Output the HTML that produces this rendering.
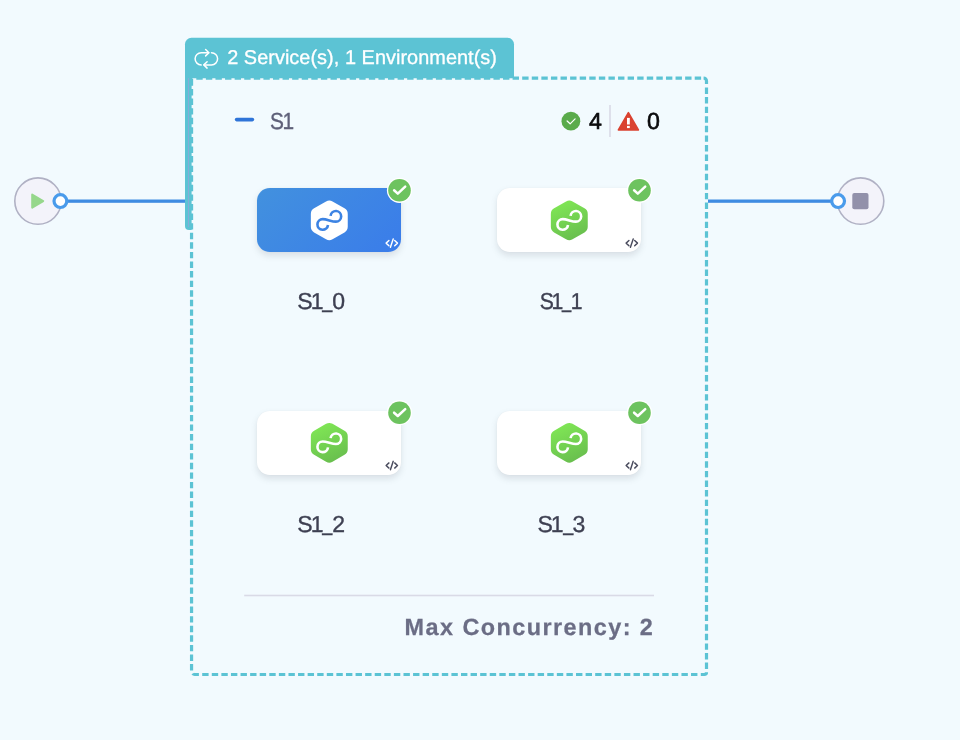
<!DOCTYPE html>
<html lang="en">
<head>
<meta charset="utf-8">
<title>Pipeline</title>
<style>
*{box-sizing:border-box;margin:0;padding:0}
html,body{width:960px;height:740px;overflow:hidden}
body{background:#f2fafe;font-family:"Liberation Sans",sans-serif;position:relative}
#root{position:absolute;left:0;top:0;width:960px;height:740px;will-change:transform}
#root>div,#root>svg{position:absolute}
.card{width:144px;height:64px;border-radius:12.8px;background:#fff;box-shadow:0 3.2px 6.4px rgba(96,97,112,.16),0 0 1.6px rgba(40,41,61,.06)}
.card.sel{background:linear-gradient(135deg,#4291de 0%,#3a7cea 100%)}
.t{white-space:nowrap;line-height:26px;text-rendering:geometricPrecision}
.tabtext{left:227.2px;top:44.5px;font-size:19.9px;color:#fff;letter-spacing:0.04px;-webkit-text-stroke:0.3px #fff}
.title{left:269.8px;top:107.6px;font-size:23.2px;color:#5e6079;letter-spacing:-1.6px;-webkit-text-stroke:0.35px #5e6079;transform:scaleX(.9);transform-origin:0 0}
.cnt{top:108.2px;font-size:23.2px;color:#0b0b0d;-webkit-text-stroke:0.6px #0b0b0d}
.label{width:80px;text-align:center;font-size:23px;color:#3e4052;letter-spacing:-2px;-webkit-text-stroke:0.35px #3e4052;transform-origin:50% 0}
.label span{display:inline-block;transform-origin:50% 100%;transform:translateY(-1.3px) scale(.78,1.1)}
.maxc{left:404.6px;top:613.6px;font-size:23.4px;font-weight:bold;color:#6b6d85;letter-spacing:1.45px;-webkit-text-stroke:0.25px #6b6d85}
</style>
</head>
<body>
<div id="root">
<div class="card sel" style="left:257px;top:188.3px"></div>
<div class="card" style="left:497px;top:188.3px"></div>
<div class="card" style="left:257px;top:410.7px"></div>
<div class="card" style="left:497px;top:410.7px"></div>
<svg width="960" height="740" viewBox="0 0 960 740" style="left:0;top:0">
<defs>
<linearGradient id="gg" x1="0.3" y1="0" x2="0.7" y2="1"><stop offset="0" stop-color="#80e755"/><stop offset="1" stop-color="#68bd4e"/></linearGradient>
<path id="hex" d="M-3.24 -18.94 A6.5 6.5 0 0 1 3.24 -18.94 L15.19 -12.07 A6.5 6.5 0 0 1 18.45 -6.44 L18.45 6.44 A6.5 6.5 0 0 1 15.19 12.07 L3.24 18.94 A6.5 6.5 0 0 1 -3.24 18.94 L-15.19 12.07 A6.5 6.5 0 0 1 -18.45 6.44 L-18.45 -6.44 A6.5 6.5 0 0 1 -15.19 -12.07 Z"/>
<path id="inf" d="M1.3 -4.6 A5.3 5.3 0 1 1 6.6 1.25 C2.3 1.25 -2.3 -1.25 -6.6 -1.25 A5.3 5.3 0 1 0 -1.3 4.6" fill="none" stroke-width="2.6"/>
<g id="badge"><circle r="12.6" fill="#fff"/><circle r="11.3" fill="#6dc35f"/><path d="M-5.4 0 L-1.7 3.3 L5.7 -3.6" fill="none" stroke="#fff" stroke-width="2.5" stroke-linecap="round" stroke-linejoin="round"/></g>
<path id="code" d="M3.9 -2.8 L0.9 0 L3.9 2.8 M8.5 -4.5 L5.5 4.5 M10.1 -2.8 L13.1 0 L10.1 2.8" fill="none" stroke-width="1.55" stroke-linecap="round" stroke-linejoin="round"/>
<g id="port"><circle r="6.4" fill="#fff" stroke="#4a9beb" stroke-width="3.2"/></g>
</defs>
<!-- links -->
<rect x="60" y="199.5" width="126" height="3.3" fill="#3f8ce2"/>
<rect x="708" y="199.5" width="126" height="3.3" fill="#3f8ce2"/>
<!-- start node -->
<circle cx="38" cy="201.1" r="23.2" fill="#f3f3fa" stroke="#b0b1c4" stroke-width="1.6"/>
<path d="M32.2 194.6 L43.2 201.1 L32.2 207.6 Z" fill="#96d78b" stroke="#96d78b" stroke-width="2" stroke-linejoin="round"/>
<use href="#port" x="60.4" y="201.1"/>
<!-- end node -->
<circle cx="860.6" cy="201.1" r="23.2" fill="#f3f3fa" stroke="#b0b1c4" stroke-width="1.6"/>
<rect x="852.3" y="193" width="16.2" height="16.2" rx="2" fill="#9291aa"/>
<use href="#port" x="838.1" y="201.1"/>
<!-- dashed group border -->
<g fill="none" stroke="#5cc3d4" stroke-width="3.2" stroke-dasharray="6.39 3.195">
<path d="M196.3 78.1 H702"/>
<path d="M706.5 87.5 V669.5"/>
<path d="M202.2 674.5 H699"/>
<path d="M191.55 79.4 V671"/>
</g>
<g fill="none" stroke="#5cc3d4" stroke-width="3.2">
<path d="M703.6 78.1 A2.9 2.9 0 0 1 706.5 81 V84"/>
<path d="M706.5 672.3 A2.2 2.2 0 0 1 704.3 674.5 H700.8"/>
<path d="M198.9 674.5 H194.6 A2.2 2.2 0 0 1 192.8 673.5"/>
<path d="M191.55 80 V79.6 A1.8 1.8 0 0 1 192.3 78.2"/>
</g>
<!-- tab and bar -->
<path d="M185 78.2 V44.2 A6.4 6.4 0 0 1 191.400 37.8 H507.6 A6.4 6.4 0 0 1 514 44.2 V78.2 Z" fill="#5cc3d4"/>
<path d="M185 78 H191.6 V230 H189 A4 4 0 0 1 185 226 Z" fill="#5cc3d4"/>
<rect x="188" y="78" width="1" height="149" fill="#86acd8"/>
<!-- loop icon -->
<g fill="none" stroke="#fff" stroke-width="1.5" stroke-linecap="round" stroke-linejoin="round">
<path d="M201.2 64.9 A6.1 6.1 0 0 1 201.2 52.700 H208.6"/>
<path d="M205.6 49.5 L208.9 52.7 L205.6 55.9"/>
<path d="M211.5 52.7 A6.1 6.1 0 0 1 211.5 64.9 H204.1"/>
<path d="M207.1 61.7 L203.8 64.9 L207.100 68.100"/>
</g>
<!-- header -->
<rect x="234.800" y="117.800" width="19.4" height="3.6" rx="1.8" fill="#2f74d8"/>
<circle cx="570.9" cy="121.200" r="9.4" fill="#5aab4b"/>
<path d="M567.1 121 L570.100 123.800 L575.100 118.800" fill="none" stroke="#fff" stroke-width="1.2" stroke-linecap="round" stroke-linejoin="round"/>
<rect x="609.2" y="105" width="1.6" height="32" fill="#d9dae6"/>
<path d="M628.4 112.600 L638.4 130 H618.4 Z" fill="#da4230" stroke="#da4230" stroke-width="1.6" stroke-linejoin="round"/>
<rect x="627" y="117.9" width="2.8" height="6.6" fill="#fff"/><rect x="627" y="125.9" width="2.8" height="2.2" fill="#fff"/>
<rect x="244.200" y="594.7" width="409.8" height="1.6" fill="#d9dae6"/>
<g transform="translate(329.3 220.4)"><use href="#hex" fill="#fff"/><use href="#inf" stroke="#3c83e3"/></g>
<g transform="translate(399.5 190.3)"><use href="#badge"/></g>
<g transform="translate(385.3 243.1) scale(.93)"><use href="#code" stroke="#fff"/></g>
<g transform="translate(569.3 220.4)"><use href="#hex" fill="url(#gg)"/><use href="#inf" stroke="#fff"/></g>
<g transform="translate(639.5 190.3)"><use href="#badge"/></g>
<g transform="translate(625.3 243.1) scale(.93)"><use href="#code" stroke="#4a4c5e"/></g>
<g transform="translate(329.3 442.8)"><use href="#hex" fill="url(#gg)"/><use href="#inf" stroke="#fff"/></g>
<g transform="translate(399.5 412.7)"><use href="#badge"/></g>
<g transform="translate(385.3 465.5) scale(.93)"><use href="#code" stroke="#4a4c5e"/></g>
<g transform="translate(569.3 442.8)"><use href="#hex" fill="url(#gg)"/><use href="#inf" stroke="#fff"/></g>
<g transform="translate(639.5 412.7)"><use href="#badge"/></g>
<g transform="translate(625.3 465.5) scale(.93)"><use href="#code" stroke="#4a4c5e"/></g>
</svg>
<div class="t tabtext">2 Service(s), 1 Environment(s)</div>
<div class="t title">S1</div>
<div class="t cnt" style="left:588.9px">4</div>
<div class="t cnt" style="left:646.9px">0</div>
<div class="t label" style="left:280.20px;top:287.90px">S1<span>_</span>0</div>
<div class="t label" style="left:519.65px;top:287.90px;letter-spacing:-2.4px;transform:scaleX(.92);margin-left:0.4px">S1<span>_</span>1</div>
<div class="t label" style="left:280.20px;top:511.00px">S1<span>_</span>2</div>
<div class="t label" style="left:520.35px;top:511.00px">S1<span>_</span>3</div>
<div class="t maxc">Max Concurrency: 2</div>
</div>
</body>
</html>
